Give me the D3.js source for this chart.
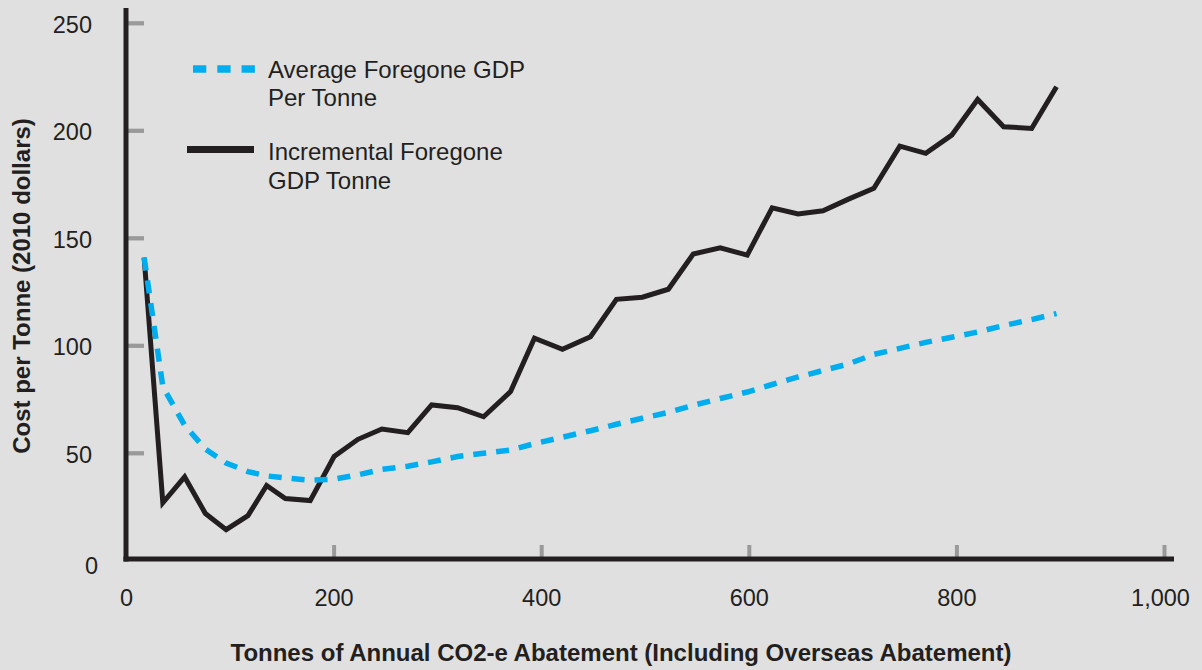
<!DOCTYPE html>
<html>
<head>
<meta charset="utf-8">
<script src="https://cdn.jsdelivr.net/npm/d3@7"></script>
<style>
  body { margin: 0; background: #e0e0e0; }
  svg { display: block; font-family: "Liberation Sans", Arial, Helvetica, sans-serif; }
  .tick-label { font-size: 23.5px; fill: #231f20; }
  .axis-title { font-size: 24px; font-weight: bold; fill: #231f20; }
  .legend-text { font-size: 24px; fill: #231f20; }
</style>
</head>
<body>
<div class="chart"></div>
<script>
// abatement (x) values, shared by both series
var abatement = [17, 35, 56, 76, 96, 117, 135, 153, 177, 200, 223, 246, 271, 294, 319, 344, 370, 393, 420, 447,
                 472, 497, 522, 546, 572, 598, 622, 647, 671, 695, 720, 745, 770, 795, 820, 845, 872, 896];
var incrementalCost = [141, 27, 39, 22, 14.5, 21, 35, 29, 28, 48.5, 56.5, 61.3, 59.6, 72.5, 71.2, 67, 78.7, 103.5, 98.4, 104.2,
                       121.6, 122.6, 126.3, 142.7, 145.6, 142.2, 164.2, 161.3, 162.8, 168.1, 173.3, 192.9, 189.5, 198, 214.6, 201.9, 201.1, 220.5];
var averageCost = [141, 81, 63, 52, 45.5, 41.5, 39.5, 38.5, 37.5, 38, 40, 42.5, 44, 46, 48.5, 50, 51.5, 54.5, 57.5, 60.5,
                   63.5, 66.3, 69, 72.3, 75.5, 78.5, 82, 85.5, 88.5, 91.5, 96, 98.8, 101.6, 104, 106.4, 109.4, 112.2, 115];
var xTicks = [0, 200, 400, 600, 800, 1000];
var yTicks = [0, 50, 100, 150, 200, 250];
var legendLabels = [["Average Foregone GDP", "Per Tonne"], ["Incremental Foregone", "GDP Tonne"]];

var svgWidth = 1202;
var svgHeight = 670;
var ink = "#231f20";
var blue = "#00aeef";
var tickGray = "#9a9a9a";

var svg = d3.select(".chart")
            .append("svg")
            .attr("width", svgWidth)
            .attr("height", svgHeight);

var x = d3.scaleLinear().domain([0, 1000]).range([126.5, 1164.5]);
var y = d3.scaleLinear().domain([0, 250]).range([560.8, 23.3]);

// gray tick marks (drawn inward)
svg.selectAll("line.ytick")
    .data(yTicks.filter(function(d) { return d > 0; }))
    .enter()
    .append("line")
    .attr("class", "ytick")
    .attr("x1", 128).attr("x2", 144)
    .attr("y1", function(d) { return y(d); })
    .attr("y2", function(d) { return y(d); })
    .attr("stroke", tickGray)
    .attr("stroke-width", 4.3);

svg.selectAll("line.xtick")
    .data(xTicks.filter(function(d) { return d > 0; }))
    .enter()
    .append("line")
    .attr("class", "xtick")
    .attr("x1", function(d) { return x(d); })
    .attr("x2", function(d) { return x(d); })
    .attr("y1", 545).attr("y2", 557)
    .attr("stroke", tickGray)
    .attr("stroke-width", 4);

// axis lines
svg.append("line")
    .attr("x1", 126).attr("x2", 126)
    .attr("y1", 8).attr("y2", 561.5)
    .attr("stroke", ink).attr("stroke-width", 5);
svg.append("line")
    .attr("x1", 123.5).attr("x2", 1174)
    .attr("y1", 559).attr("y2", 559)
    .attr("stroke", ink).attr("stroke-width", 5);

// tick labels
svg.selectAll("text.ylabel")
    .data(yTicks)
    .enter()
    .append("text")
    .attr("class", "tick-label ylabel")
    .attr("text-anchor", "end")
    .attr("x", function(d) { return d === 0 ? 98 : 92; })
    .attr("y", function(d) { return y(d) + (d === 0 ? 13 : 9.5); })
    .text(function(d) { return d3.format(",")(d); });

svg.selectAll("text.xlabel")
    .data(xTicks)
    .enter()
    .append("text")
    .attr("class", "tick-label xlabel")
    .attr("text-anchor", "middle")
    .attr("x", function(d) { return x(d) + (d === 1000 ? -4 : 0); })
    .attr("y", 606)
    .text(function(d) { return d3.format(",")(d); });

// axis titles
svg.append("text")
    .attr("class", "axis-title")
    .attr("text-anchor", "middle")
    .attr("x", 621)
    .attr("y", 661)
    .text("Tonnes of Annual CO2-e Abatement (Including Overseas Abatement)");

svg.append("text")
    .attr("class", "axis-title")
    .attr("text-anchor", "middle")
    .attr("transform", "translate(29.5,286) rotate(-90)")
    .text("Cost per Tonne (2010 dollars)");

// series
var incLine = d3.line()
    .x(function(d, i) { return x(abatement[i]); })
    .y(function(d) { return y(d); });

svg.append("path")
    .datum(incrementalCost)
    .attr("d", incLine)
    .attr("fill", "none")
    .attr("stroke", ink)
    .attr("stroke-width", 5)
    .attr("stroke-linejoin", "miter");

svg.append("path")
    .datum(averageCost)
    .attr("d", incLine)
    .attr("fill", "none")
    .attr("stroke", blue)
    .attr("stroke-width", 5.5)
    .attr("stroke-dasharray", "13,10");

// legend
var legend = svg.append("g");
legend.append("line")
    .attr("x1", 193).attr("x2", 255)
    .attr("y1", 69).attr("y2", 69)
    .attr("stroke", blue).attr("stroke-width", 7.5)
    .attr("stroke-dasharray", "13.3,11");
legend.append("line")
    .attr("x1", 187).attr("x2", 254)
    .attr("y1", 149.5).attr("y2", 149.5)
    .attr("stroke", ink).attr("stroke-width", 7);

legend.selectAll("text")
    .data(legendLabels)
    .enter()
    .append("text")
    .attr("class", "legend-text")
    .attr("x", 268)
    .attr("y", function(d, i) { return i === 0 ? 77.5 : 160; })
    .each(function(d) {
      var t = d3.select(this);
      d.forEach(function(line, j) {
        t.append("tspan").attr("x", 268).attr("dy", j === 0 ? 0 : 28.5).text(line);
      });
    });
</script>
</body>
</html>
